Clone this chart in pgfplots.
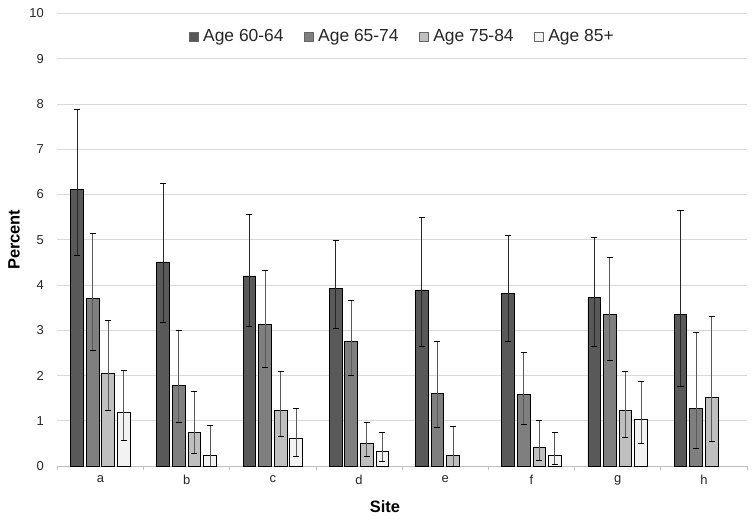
\documentclass[border=0pt]{standalone}
\usepackage{pgfplots}
\pgfplotsset{compat=1.18}
\usepackage{pgfplotstable}
\usepackage{fontspec}
\setmainfont{Liberation Sans}
\definecolor{cA}{HTML}{595959}
\definecolor{cB}{HTML}{7F7F7F}
\definecolor{cC}{HTML}{BFBFBF}
\definecolor{cD}{HTML}{F2F2F2}
\definecolor{gridc}{HTML}{D9D9D9}
\definecolor{axc}{HTML}{BFBFBF}
\pgfplotstableread{
x y ep em
0 6.11 1.76 1.45
1 4.51 1.74 1.34
2 4.20 1.36 1.11
3 3.93 1.05 0.89
4 3.89 1.60 1.24
5 3.81 1.29 1.05
6 3.73 1.33 1.09
7 3.34 2.30 1.58
}\dA
\pgfplotstableread{
x y ep em
0 3.71 1.43 1.15
1 1.79 1.21 0.83
2 3.13 1.20 0.96
3 2.76 0.89 0.75
4 1.61 1.15 0.76
5 1.58 0.93 0.66
6 3.34 1.28 1.00
7 1.27 1.68 0.88
}\dB
\pgfplotstableread{
x y ep em
0 2.05 1.16 0.83
1 0.75 0.90 0.48
2 1.23 0.85 0.57
3 0.50 0.47 0.28
4 0.23 0.65 0.23
5 0.42 0.58 0.30
6 1.22 0.88 0.58
7 1.52 1.79 0.97
}\dC
\pgfplotstableread{
x y ep em
0 1.18 0.93 0.61
1 0.23 0.67 0.23
2 0.60 0.67 0.38
3 0.32 0.42 0.22
5 0.24 0.50 0.20
6 1.03 0.83 0.53
}\dD
\begin{document}
\begin{tikzpicture}
\begin{axis}[
  at={(0,0)}, anchor=south west,
  scale only axis, width=689.7bp, height=452.5bp,
  ybar=2.9bp, bar width=12.7bp,
  xmin=-0.5, xmax=7.5, ymin=0, ymax=10,
  xtick={0,...,7}, xticklabels={a,b,c,d,e,f,g,h},
  minor xtick={-0.5,0.5,...,7.5},
  ytick={0,...,10},
  major tick length=0pt, minor tick length=4bp,
  xtick align=outside,
  every minor tick/.style={draw=axc, line width=0.8bp},
  ymajorgrids, grid style={draw=gridc, line width=0.8bp},
  axis x line*=bottom, axis y line*=left,
  x axis line style={draw=axc, line width=0.8bp, -},
  y axis line style={draw=none},
  /pgf/number format/assume math mode=true,
  ticklabel style={font=\fontsize{13}{15}\selectfont, text=black!85},
  yticklabel style={xshift=-10bp},
  xticklabel style={yshift=-6bp},
  xlabel={\textbf{Site}}, ylabel={\textbf{Percent}},
  label style={font=\fontsize{16.5}{19}\selectfont},
  xlabel style={at={(axis description cs:0.475,-0.0906)}, anchor=center},
  ylabel style={at={(axis description cs:-0.0628,0.5)}, anchor=center},
  legend columns=4,
  legend style={at={(0.5,1)}, anchor=north, yshift=-12bp, draw=none, fill=none,
    font=\fontsize{17.5}{20}\selectfont, text=black!85,
    /tikz/every odd column/.append style={column sep=3bp},
    /tikz/every even column/.append style={column sep=18bp}},
  legend image code/.code={\draw[#1, draw=black!60, line width=0.6bp] (0bp,-4.5bp) rectangle (9bp,4.5bp);},
  error bars/y dir=both, error bars/y explicit,
  error bars/error mark options={rotate=90, mark size=3bp, line width=0.8bp},
]
\addplot[fill=cA, draw=black, line width=0.8bp,
  error bars/error bar style={draw=black!85, line width=0.9bp}]
  table[x=x, y=y, y error plus=ep, y error minus=em]{\dA};
\addplot[fill=cB, draw=black, line width=0.8bp,
  error bars/error bar style={draw=black!65, line width=0.9bp}]
  table[x=x, y=y, y error plus=ep, y error minus=em]{\dB};
\addplot[fill=cC, draw=black, line width=0.8bp,
  error bars/error bar style={draw=black!65, line width=0.9bp}]
  table[x=x, y=y, y error plus=ep, y error minus=em]{\dC};
\addplot[fill=cD, draw=black, line width=0.8bp,
  error bars/error bar style={draw=black!65, line width=0.9bp}]
  table[x=x, y=y, y error plus=ep, y error minus=em]{\dD};
\legend{Age 60-64, Age 65-74, Age 75-84, Age 85+}
\end{axis}
\pgfresetboundingbox
\path[use as bounding box] (-57.3bp,-54bp) rectangle (696.7bp,466bp);
\end{tikzpicture}
\end{document}
